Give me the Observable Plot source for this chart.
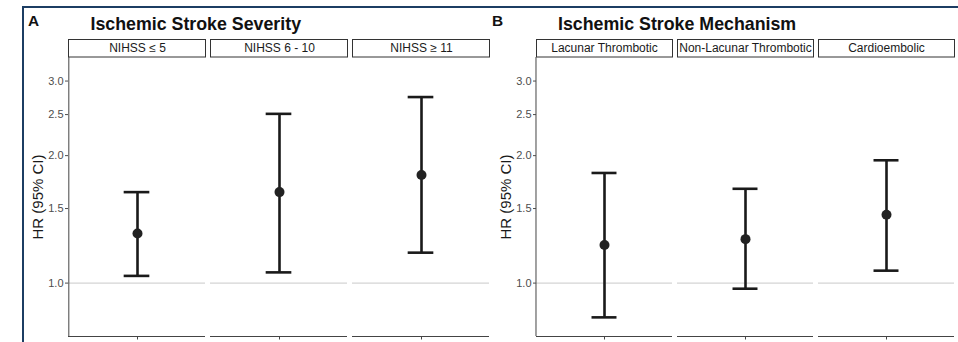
<!DOCTYPE html>
<html>
<head>
<meta charset="utf-8">
<script src="https://cdn.jsdelivr.net/npm/d3@7"></script>
<script src="https://cdn.jsdelivr.net/npm/@observablehq/plot@0.6"></script>
<style>
  html, body { margin: 0; padding: 0; background: #fff; overflow: hidden; }
  #wrap { position: relative; width: 958px; height: 342px; overflow: hidden; background: #fff; font-family: "Liberation Sans", Arial, sans-serif; }
  #border { position: absolute; left: 22px; top: 6px; width: 1000px; height: 400px; border-top: 2px solid #1c3d63; border-left: 2px solid #1c3d63; }
  .ttl { position: absolute; font-weight: bold; line-height: 1; white-space: nowrap; color: #111; }
  .plot { position: absolute; top: 0; }
</style>
</head>
<body>
<div id="wrap">
  <div id="border"></div>
  <div class="ttl" style="left:28px; top:13px; font-size:15.4px;">A</div>
  <div class="ttl" style="left:90.5px; top:15.6px; font-size:17.8px;">Ischemic Stroke Severity</div>
  <div class="ttl" style="left:492px; top:13px; font-size:15.4px;">B</div>
  <div class="ttl" style="left:558px; top:15.6px; font-size:17.8px;">Ischemic Stroke Mechanism</div>
  <div id="plotA" class="plot" style="left:0px;"></div>
  <div id="plotB" class="plot" style="left:492px;"></div>
</div>
<script>
// ---- data ----
const severityCats = ["NIHSS ≤ 5", "NIHSS 6 - 10", "NIHSS ≥ 11"];
const severityHR = [1.31, 1.64, 1.80];
const severityLo = [1.04, 1.06, 1.18];
const severityHi = [1.64, 2.51, 2.75];

const mechanismCats = ["Lacunar Thrombotic", "Non-Lacunar Thrombotic", "Cardioembolic"];
const mechanismHR = [1.23, 1.27, 1.45];
const mechanismLo = [0.83, 0.97, 1.07];
const mechanismHi = [1.82, 1.67, 1.95];

const yTicks = [1.0, 1.5, 2.0, 2.5, 3.0];
const yLabel = "HR (95% CI)";
const refValue = [1];
const xKey = "HR";

// ---- layout/style ----
const yDomain = [0.748, 3.41];
const H = 342, marginTop = 57, marginBottom = 6;
const plotH = H - marginTop - marginBottom;
const padInner = 0.035;
const capWidth = 26;
const ink = "#1a1a1a";
const axisInk = "#444";

function panel(cats, hr, lo, hi, opts) {
  const data = cats.map((c, i) => ({cat: c, key: xKey, hr: hr[i], lo: lo[i], hi: hi[i]}));
  const frameW = opts.width - opts.marginLeft - opts.marginRight;
  const step = frameW / (cats.length - padInner);
  const bw = step * (1 - padInner);
  const capInset = (bw - capWidth) / 2;
  return Plot.plot({
    width: opts.width,
    height: H,
    marginLeft: opts.marginLeft,
    marginRight: opts.marginRight,
    marginTop, marginBottom,
    style: {fontFamily: '"Liberation Sans", Arial, sans-serif', background: "transparent", overflow: "visible"},
    fx: {domain: cats, paddingInner: padInner, paddingOuter: 0, axis: null, label: null},
    x: {type: "point", domain: [xKey], axis: null},
    y: {type: "log", domain: yDomain},
    marks: [
      // strip boxes + labels
      Plot.frame({insetTop: -18, insetBottom: plotH + 0.5, stroke: "#333", strokeWidth: 1, fill: "white"}),
      Plot.text(cats, {fx: d => d, x: () => xKey, text: d => d, frameAnchor: "top", lineAnchor: "middle", dy: -9, fontSize: 12, fill: ink}),
      // reference line at HR = 1
      Plot.ruleY(refValue, {stroke: "#d4d4d4", strokeWidth: 1.2}),
      // bottom axis line and centre tick
      Plot.ruleY(cats, {fx: d => d, y: () => yDomain[0], stroke: axisInk, strokeWidth: 1}),
      Plot.ruleX(cats, {fx: d => d, x: () => xKey, insetTop: plotH, insetBottom: -3.5, stroke: axisInk, strokeWidth: 1}),
      // left axis line on first facet only
      Plot.ruleX([cats[0]], {fx: d => d, x: () => xKey, dx: -bw / 2, stroke: axisInk, strokeWidth: 1}),
      Plot.axisY({
        ticks: yTicks, tickFormat: d => d.toFixed(1), tickSize: 3, tickPadding: 2,
        fontSize: 11, color: "#4d4d4d",
        label: yLabel, labelAnchor: "center", labelOffset: 36, labelArrow: "none"
      }),
      // error bars
      Plot.ruleX(data, {fx: "cat", x: "key", y1: "lo", y2: "hi", stroke: ink, strokeWidth: 2.6}),
      Plot.tickY(data, {fx: "cat", y: "lo", insetLeft: capInset, insetRight: capInset, stroke: ink, strokeWidth: 2.6}),
      Plot.tickY(data, {fx: "cat", y: "hi", insetLeft: capInset, insetRight: capInset, stroke: ink, strokeWidth: 2.6}),
      Plot.dot(data, {fx: "cat", x: "key", y: "hr", r: 5, fill: "#222", stroke: "none"})
    ]
  });
}

const a = panel(severityCats, severityHR, severityLo, severityHi, {width: 492, marginLeft: 68, marginRight: 2});
const b = panel(mechanismCats, mechanismHR, mechanismLo, mechanismHi, {width: 466, marginLeft: 43, marginRight: 2});
document.getElementById("plotA").appendChild(a);
document.getElementById("plotB").appendChild(b);
for (const svg of [a, b]) {
  svg.querySelectorAll("[aria-label='y-axis label'] text, [aria-label='y-axis label']").forEach(el => {
    el.setAttribute("font-size", 15);
    el.setAttribute("fill", ink);
  });
}
</script>
</body>
</html>
